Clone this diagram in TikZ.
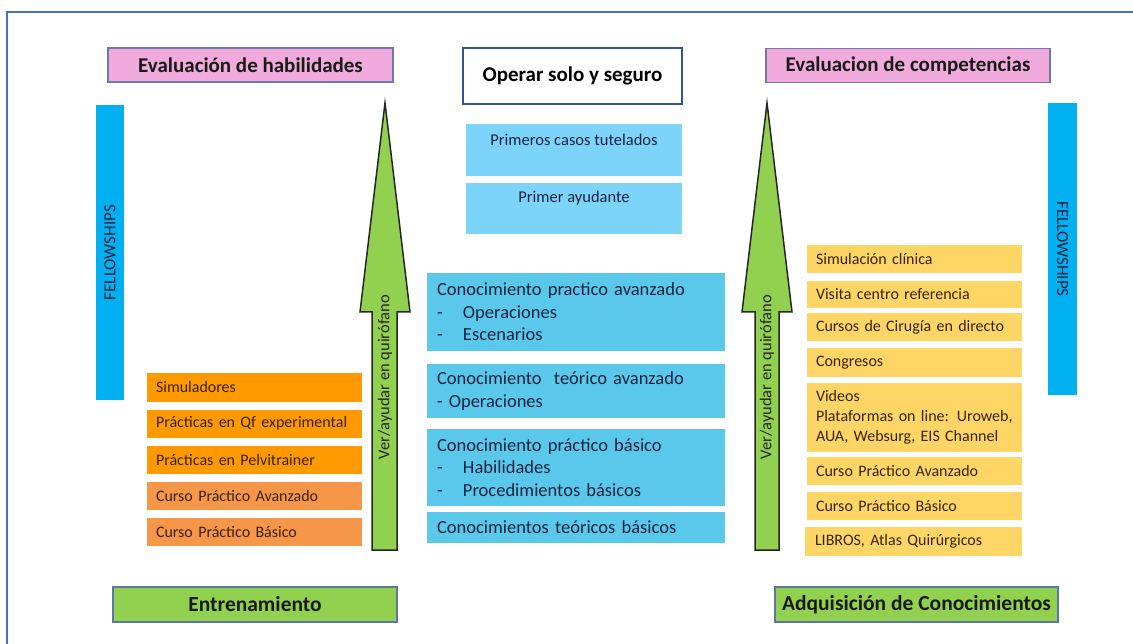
\documentclass[tikz,border=0pt]{standalone}
\usepackage{fontspec}
\setmainfont{Carlito}
\definecolor{framecol}{RGB}{68,114,196}
\definecolor{pinkfill}{RGB}{240,170,220}
\definecolor{hdline}{RGB}{110,120,175}
\definecolor{opline}{RGB}{47,85,151}
\definecolor{topblue}{RGB}{125,212,250}
\definecolor{midblue}{RGB}{90,200,235}
\definecolor{fellow}{RGB}{0,176,240}
\definecolor{orangeA}{RGB}{255,153,0}
\definecolor{orangeB}{RGB}{246,150,72}
\definecolor{yellowbox}{RGB}{255,214,102}
\definecolor{greenfill}{RGB}{146,208,80}
\definecolor{bottomline}{RGB}{90,120,160}
\definecolor{navytext}{RGB}{20,35,65}
\definecolor{browntext}{RGB}{55,35,15}
\begin{document}
\begin{tikzpicture}[x=1pt,y=-1pt,
    hdbox/.style={draw=hdline,fill=pinkfill,line width=1.2pt,minimum height=34pt,
      font=\fontsize{21}{24}\selectfont\bfseries,text=black!90},
    topbox/.style={fill=topblue,minimum width=216pt},
    toptext/.style={font=\fontsize{16.5}{19}\selectfont,text=navytext},
    midbox/.style={fill=midblue,minimum width=298pt,text width=278pt,inner xsep=10pt,align=left,
      font=\fontsize{18.5}{22.5}\selectfont,text=navytext},
    orbox/.style={fill=orangeA,minimum width=215pt,text width=197pt,inner xsep=9pt,align=left,
      minimum height=28pt,font=\fontsize{16}{18}\selectfont,text=browntext},
    yebox/.style={fill=yellowbox,minimum width=215pt,text width=197pt,inner xsep=9pt,align=left,
      minimum height=28pt,font=\fontsize{16}{20}\selectfont,text=browntext},
    fellowbar/.style={fill=fellow,font=\fontsize{17}{19}\selectfont,text=navytext},
    botbox/.style={draw=bottomline,fill=greenfill,line width=1.2pt,minimum width=284pt,minimum height=35pt,
      font=\fontsize{21.5}{24}\selectfont\bfseries,text=black!90},
    uparrow/.style={draw=black!85,fill=greenfill,line width=1.5pt,line join=miter},
    arrowtext/.style={font=\fontsize{16.5}{18}\selectfont,text=black!85}]
    \useasboundingbox (0,0) rectangle (1133,644);
    \draw[framecol,line width=2pt] (7,644) -- (7,12) -- (1133,12);

    \node[hdbox,minimum width=285pt] (evalhab) at (250.5,65) {Evaluación de habilidades};
    \node[hdbox,minimum width=284pt] (evalcomp) at (908,65.5) {Evaluacion de competencias};
    \node[draw=opline,line width=2pt,fill=white,minimum width=219pt,minimum height=56pt,
      font=\fontsize{21}{24}\selectfont\bfseries] (operar) at (572.5,76) {Operar solo y seguro};

    \node[topbox,minimum height=52pt] (primeros) at (574,150) {};
    \node[toptext] (primerosT) at (574,140) {Primeros casos tutelados};
    \node[topbox,minimum height=51pt] (ayudante) at (574,208.5) {};
    \node[toptext] (ayudanteT) at (574,198) {Primer ayudante};

    \node[midbox,minimum height=78pt] (cpa) at (576,312) {Conocimiento practico avanzado\\
      \makebox[26pt][l]{-}Operaciones\\ \makebox[26pt][l]{-}Escenarios};
    \node[midbox,minimum height=54pt] (cta) at (576,391) {Conocimiento~ teórico avanzado\\- Operaciones};
    \node[midbox,minimum height=77pt] (cpb) at (576,467.5) {Conocimiento práctico básico\\
      \makebox[26pt][l]{-}Habilidades\\ \makebox[26pt][l]{-}Procedimientos básicos};
    \node[midbox,minimum height=31pt] (ctb) at (576,527.5) {Conocimientos teóricos básicos};

    \node[fellowbar,minimum width=295pt,minimum height=28pt,rotate=90] (fellowL) at (110,252.5) {FELLOWSHIPS};
    \node[fellowbar,minimum width=292pt,minimum height=29pt,rotate=-90] (fellowR) at (1062.5,249) {FELLOWSHIPS};

    \node[orbox,minimum height=29pt] (simul) at (254.5,387.5) {Simuladores};
    \node[orbox] (qfexp) at (254.5,423.5) {Prácticas en Qf experimental};
    \node[orbox] (pelvi) at (254.5,460) {Prácticas en Pelvitrainer};
    \node[orbox,fill=orangeB] (cursoavL) at (254.5,496) {Curso Práctico Avanzado};
    \node[orbox,fill=orangeB] (cursobaL) at (254.5,532) {Curso Práctico Básico};

    \node[yebox] (simclin) at (914.5,259) {Simulación clínica};
    \node[yebox,minimum height=27pt] (visita) at (914.5,294.5) {Visita centro referencia};
    \node[yebox] (cirugia) at (914.5,327) {Cursos de Cirugía en directo};
    \node[yebox,minimum height=29pt] (congresos) at (914.5,362.5) {Congresos};
    \node[yebox,minimum height=69pt] (videos) at (914.5,417.5) {Videos\\Plataformas on line: Uroweb,\\AUA, Websurg, EIS Channel};
    \node[yebox] (cursoavR) at (914.5,471) {Curso Práctico Avanzado};
    \node[yebox] (cursobaR) at (914.5,506) {Curso Práctico Básico};
    \node[yebox,minimum width=217pt,minimum height=29pt] (libros) at (913.5,541.5) {LIBROS, Atlas Quirúrgicos};

    \draw[uparrow] (372,550) -- (372,312) -- (360,312) -- (385,103) -- (410,312) -- (397,312) -- (397,550) -- cycle;
    \node[arrowtext,rotate=90] (verL) at (385,377) {Ver/ayudar en quirófano};
    \draw[uparrow] (755,550) -- (755,312) -- (742,312) -- (767,103) -- (792,312) -- (779,312) -- (779,550) -- cycle;
    \node[arrowtext,rotate=90] (verR) at (767,377) {Ver/ayudar en quirófano};

    \node[botbox] (entrena) at (255,604.5) {Entrenamiento};
    \node[botbox,minimum width=283pt] (adquis) at (916.5,604.5) {Adquisición de Conocimientos};
  \end{tikzpicture}
\end{document}
